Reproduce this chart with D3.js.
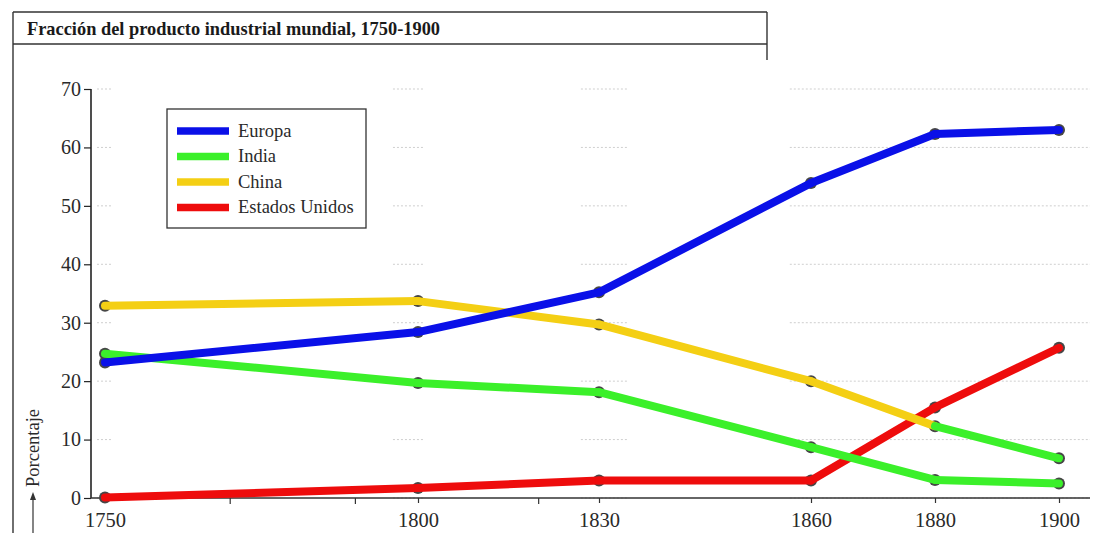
<!DOCTYPE html>
<html>
<head>
<meta charset="utf-8">
<script src="https://cdn.jsdelivr.net/npm/d3@7"></script>
<style>
  html, body { margin: 0; padding: 0; background: #fff; }
  svg { display: block; }
  text { font-family: "Liberation Serif", "DejaVu Serif", serif; fill: #2a2a2a; }
</style>
</head>
<body>
<svg id="chart" width="1094" height="533"></svg>
<script>
// ---- data ----
const years = [1750, 1800, 1830, 1860, 1880, 1900];
const yTicks = [0, 10, 20, 30, 40, 50, 60, 70];
const minorYears = [1770, 1790, 1820];
const seriesNames = ["Europa", "India", "China", "Estados Unidos"];
const europa = [23.2, 28.4, 35.2, 53.9, 62.3, 63.0];
const india = [24.7, 19.7, 18.1, 8.7, 3.1, 2.5];
const china = [32.9, 33.7, 29.7, 20.0, 12.3, 6.8];
const estadosUnidos = [0.1, 1.7, 3.0, 3.0, 15.5, 25.7];
const titleText = "Fracción del producto industrial mundial, 1750-1900";
const yLabel = "Porcentaje";

// ---- styles ----
const colors = { "Europa": "#0a10e8", "India": "#3bf02a", "China": "#f4cf14", "Estados Unidos": "#ee0c0c" };
const seriesValues = { "Europa": europa, "India": india, "China": china, "Estados Unidos": estadosUnidos };
// colour of each segment (the reference paints China's last segment green)
const segmentColors = {
  "Europa": [colors["Europa"], colors["Europa"], colors["Europa"], colors["Europa"], colors["Europa"]],
  "India": [colors["India"], colors["India"], colors["India"], colors["India"], colors["India"]],
  "China": [colors["China"], colors["China"], colors["China"], colors["China"], colors["India"]],
  "Estados Unidos": [colors["Estados Unidos"], colors["Estados Unidos"], colors["Estados Unidos"], colors["Estados Unidos"], colors["Estados Unidos"]]
};

const svg = d3.select("#chart");

// uneven spacing of the printed axis
const x = d3.scaleLinear().domain(years).range([105, 418, 599, 811, 935, 1059]);
const y = d3.scaleLinear().domain([0, 70]).range([498, 89]);

// ---- frame / title box ----
const frame = svg.append("g").attr("stroke", "#333").attr("fill", "none").attr("stroke-width", 1.4);
frame.append("line").attr("x1", 13).attr("x2", 13).attr("y1", 12).attr("y2", 533);
frame.append("line").attr("x1", 13).attr("x2", 767).attr("y1", 12).attr("y2", 12);
frame.append("line").attr("x1", 13).attr("x2", 767).attr("y1", 44).attr("y2", 44);
frame.append("line").attr("x1", 767).attr("x2", 767).attr("y1", 12).attr("y2", 60);

svg.append("text")
  .attr("x", 27).attr("y", 34.5)
  .style("font-size", "19px").attr("font-weight", "bold")
  .attr("textLength", 413).attr("lengthAdjust", "spacingAndGlyphs")
  .style("fill", "#1a1a1a")
  .text(titleText);

// ---- faint gridline pieces ----
const gridPieces = [[1748, 1751], [1796, 1801], [1827, 1834], [1857, 1905]];
const grid = svg.append("g");
yTicks.forEach(t => {
  gridPieces.forEach(p => {
    grid.append("line")
      .attr("x1", Math.max(x(p[0]), 97)).attr("x2", Math.min(x(p[1]), 1090))
      .attr("y1", y(t)).attr("y2", y(t))
      .attr("stroke", "#cfcfcf").attr("stroke-width", 1)
      .attr("stroke-dasharray", "2,2");
  });
});

// ---- axes ----
const yAxis = svg.append("g").attr("transform", "translate(91,0)")
  .call(d3.axisLeft(y).tickValues(yTicks).tickSize(7).tickPadding(3));
yAxis.select(".domain").attr("stroke", "#222").attr("stroke-width", 1.6).attr("d", "M0," + y(70) + "V" + y(0));
yAxis.selectAll(".tick line").attr("stroke", "#222").attr("stroke-width", 1.2);
yAxis.selectAll(".tick text").style("font-size", "20px").style("font-family", "Liberation Serif").style("fill", "#2a2a2a");

const xAxis = svg.append("g").attr("transform", "translate(0," + y(0) + ")")
  .call(d3.axisBottom(x).tickValues(years).tickFormat(d3.format("d")).tickSize(5).tickPadding(9));
xAxis.select(".domain").attr("stroke", "#333").attr("stroke-width", 1.3).attr("d", "M91,0H1090");
xAxis.selectAll(".tick line").attr("stroke", "#333").attr("stroke-width", 1.2);
xAxis.selectAll(".tick text").style("font-size", "20.5px").style("font-family", "Liberation Serif").style("fill", "#2a2a2a");
xAxis.selectAll(".minor").data(minorYears).enter().append("line")
  .attr("x1", d => x(d)).attr("x2", d => x(d)).attr("y1", 0).attr("y2", 6)
  .attr("stroke", "#333").attr("stroke-width", 1.2);

// ---- y label with arrow ----
svg.append("text")
  .attr("transform", "translate(39,448) rotate(-90)")
  .attr("text-anchor", "middle").style("font-size", "18.5px")
  .text(yLabel);
svg.append("line").attr("x1", 33).attr("x2", 33).attr("y1", 533).attr("y2", 499)
  .attr("stroke", "#333").attr("stroke-width", 1.2);
svg.append("path").attr("d", "M33,492 L30,500 L36,500 Z").attr("fill", "#333");

// ---- markers (dark dots under the coloured lines) ----
const marks = svg.append("g");
seriesNames.forEach(name => {
  marks.selectAll(null).data(years).enter().append("circle")
    .attr("cx", d => x(d))
    .attr("cy", (d, i) => y(seriesValues[name][i]))
    .attr("r", 6)
    .attr("fill", "#464646");
});

// ---- lines, segment by segment ----
const lineGen = d3.line().x(d => x(d[0])).y(d => y(d[1]));
const order = ["Estados Unidos", "India", "China", "Europa"];
order.forEach(name => {
  const vals = seriesValues[name];
  const pts = years.map((yr, i) => [yr, vals[i]]);
  for (let i = 0; i < pts.length - 1; i++) {
    svg.append("path")
      .attr("d", lineGen([pts[i], pts[i + 1]]))
      .attr("fill", "none")
      .attr("stroke", segmentColors[name][i])
      .attr("stroke-width", 8)
      .attr("stroke-linecap", "round");
  }
});

// ---- legend ----
const legend = svg.append("g");
legend.append("rect").attr("x", 167).attr("y", 109).attr("width", 199).attr("height", 119)
  .attr("fill", "#fff").attr("stroke", "#333").attr("stroke-width", 1.3);
seriesNames.forEach((name, i) => {
  const ly = 131 + i * 25.5;
  legend.append("line").attr("x1", 177).attr("x2", 229).attr("y1", ly).attr("y2", ly)
    .attr("stroke", colors[name]).attr("stroke-width", 7.5);
  legend.append("text").attr("x", 238).attr("y", ly + 5.5).style("font-size", "18.5px").text(name);
});
</script>
</body>
</html>
